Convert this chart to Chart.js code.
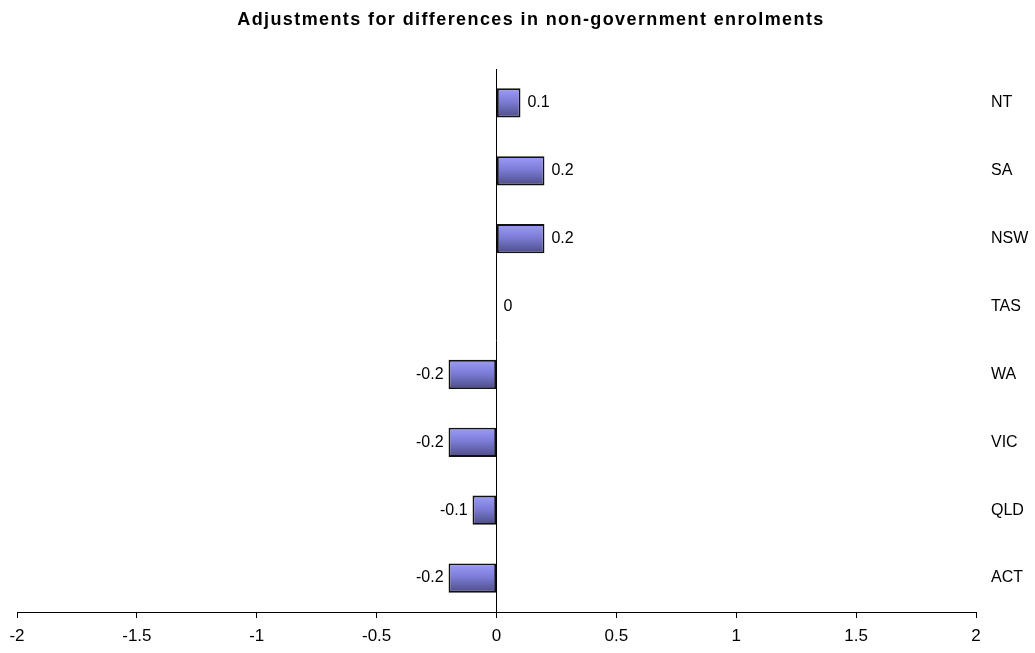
<!DOCTYPE html>
<html>
<head>
<meta charset="utf-8">
<script src="https://cdn.jsdelivr.net/npm/chart.js@4"></script>
<style>
  html, body { margin: 0; padding: 0; background: #fff; }
  #wrap { width: 1035px; height: 653px; }
</style>
</head>
<body>
<div id="wrap"><canvas id="chart" width="1035" height="653"></canvas></div>
<script>
// data
const chartTitle = 'Adjustments for differences in non-government enrolments';
const states = ['NT', 'SA', 'NSW', 'TAS', 'WA', 'VIC', 'QLD', 'ACT'];
const adjustments = [0.1, 0.2, 0.2, 0, -0.2, -0.2, -0.1, -0.2];
const xTicks = [-2, -1.5, -1, -0.5, 0, 0.5, 1, 1.5, 2];

const FONT = "'Liberation Sans', Arial, sans-serif";

// gradient fill per bar (light on top, dark on bottom)
const gradientBars = {
    id: 'gradientBars',
    beforeDatasetsDraw(chart) {
        const ctx = chart.ctx;
        chart.getDatasetMeta(0).data.forEach((bar) => {
            const h = bar.height || 1;
            const g = ctx.createLinearGradient(0, bar.y - h / 2, 0, bar.y + h / 2);
            g.addColorStop(0, '#9c9cfa');
            g.addColorStop(0.45, '#7d7dd8');
            g.addColorStop(1, '#4c4c86');
            // options can be shared between bars, so give each its own copy
            bar.options = Object.assign({}, bar.options, { backgroundColor: g });
        });
    }
};

// title drawn by hand so the letter spacing can be widened like the original
const titleText = {
    id: 'titleText',
    afterDraw(chart) {
        const ctx = chart.ctx;
        ctx.save();
        ctx.font = 'bold 18px ' + FONT;
        ctx.fillStyle = '#000';
        ctx.textAlign = 'center';
        ctx.textBaseline = 'middle';
        if ('letterSpacing' in ctx) ctx.letterSpacing = '1.4px';
        ctx.fillText(chartTitle, 531, 20);
        ctx.restore();
    }
};

// value labels next to each bar
const valueLabels = {
    id: 'valueLabels',
    afterDatasetsDraw(chart) {
        const ctx = chart.ctx;
        const x0 = chart.scales.x.getPixelForValue(0);
        ctx.save();
        ctx.font = '16px ' + FONT;
        ctx.fillStyle = '#000';
        ctx.textBaseline = 'middle';
        chart.getDatasetMeta(0).data.forEach((bar, i) => {
            const v = adjustments[i];
            if (v < 0) {
                ctx.textAlign = 'right';
                ctx.fillText(String(v), bar.x - 5, bar.y);
            } else {
                ctx.textAlign = 'left';
                ctx.fillText(String(v), (v === 0 ? x0 : bar.x) + 7, bar.y);
            }
        });
        ctx.restore();
    }
};

new Chart(document.getElementById('chart'), {
    type: 'bar',
    data: {
        labels: states,
        datasets: [{
            data: adjustments,
            borderColor: '#111',
            borderWidth: 1.8,
            borderSkipped: false,
            categoryPercentage: 1,
            barPercentage: 0.43
        }]
    },
    options: {
        indexAxis: 'y',
        responsive: false,
        animation: false,
        layout: { padding: { left: 17, right: 0, top: 69, bottom: 0 } },
        plugins: {
            legend: { display: false },
            tooltip: { enabled: false },
            title: { display: false }
        },
        scales: {
            x: {
                min: -2,
                max: 2,
                afterBuildTicks: (scale) => { scale.ticks = xTicks.map((v) => ({ value: v })); },
                afterFit: (scale) => { scale.height = 41; },
                border: { display: true, color: '#000', width: 1 },
                grid: {
                    drawOnChartArea: true,
                    color: (c) => (c.tick && c.tick.value === 0 ? '#000' : 'rgba(0,0,0,0)'),
                    tickColor: '#000',
                    tickLength: 6
                },
                ticks: {
                    color: '#000',
                    padding: 8,
                    font: { family: FONT, size: 17 },
                    callback: (v) => String(v)
                }
            },
            y: {
                position: 'right',
                afterFit: (scale) => { scale.width = 59; },
                border: { display: false },
                grid: { display: false, drawTicks: false },
                ticks: {
                    color: '#000',
                    crossAlign: 'near',
                    padding: 15,
                    font: { family: FONT, size: 16 }
                }
            }
        }
    },
    plugins: [gradientBars, valueLabels, titleText]
});
</script>
</body>
</html>
